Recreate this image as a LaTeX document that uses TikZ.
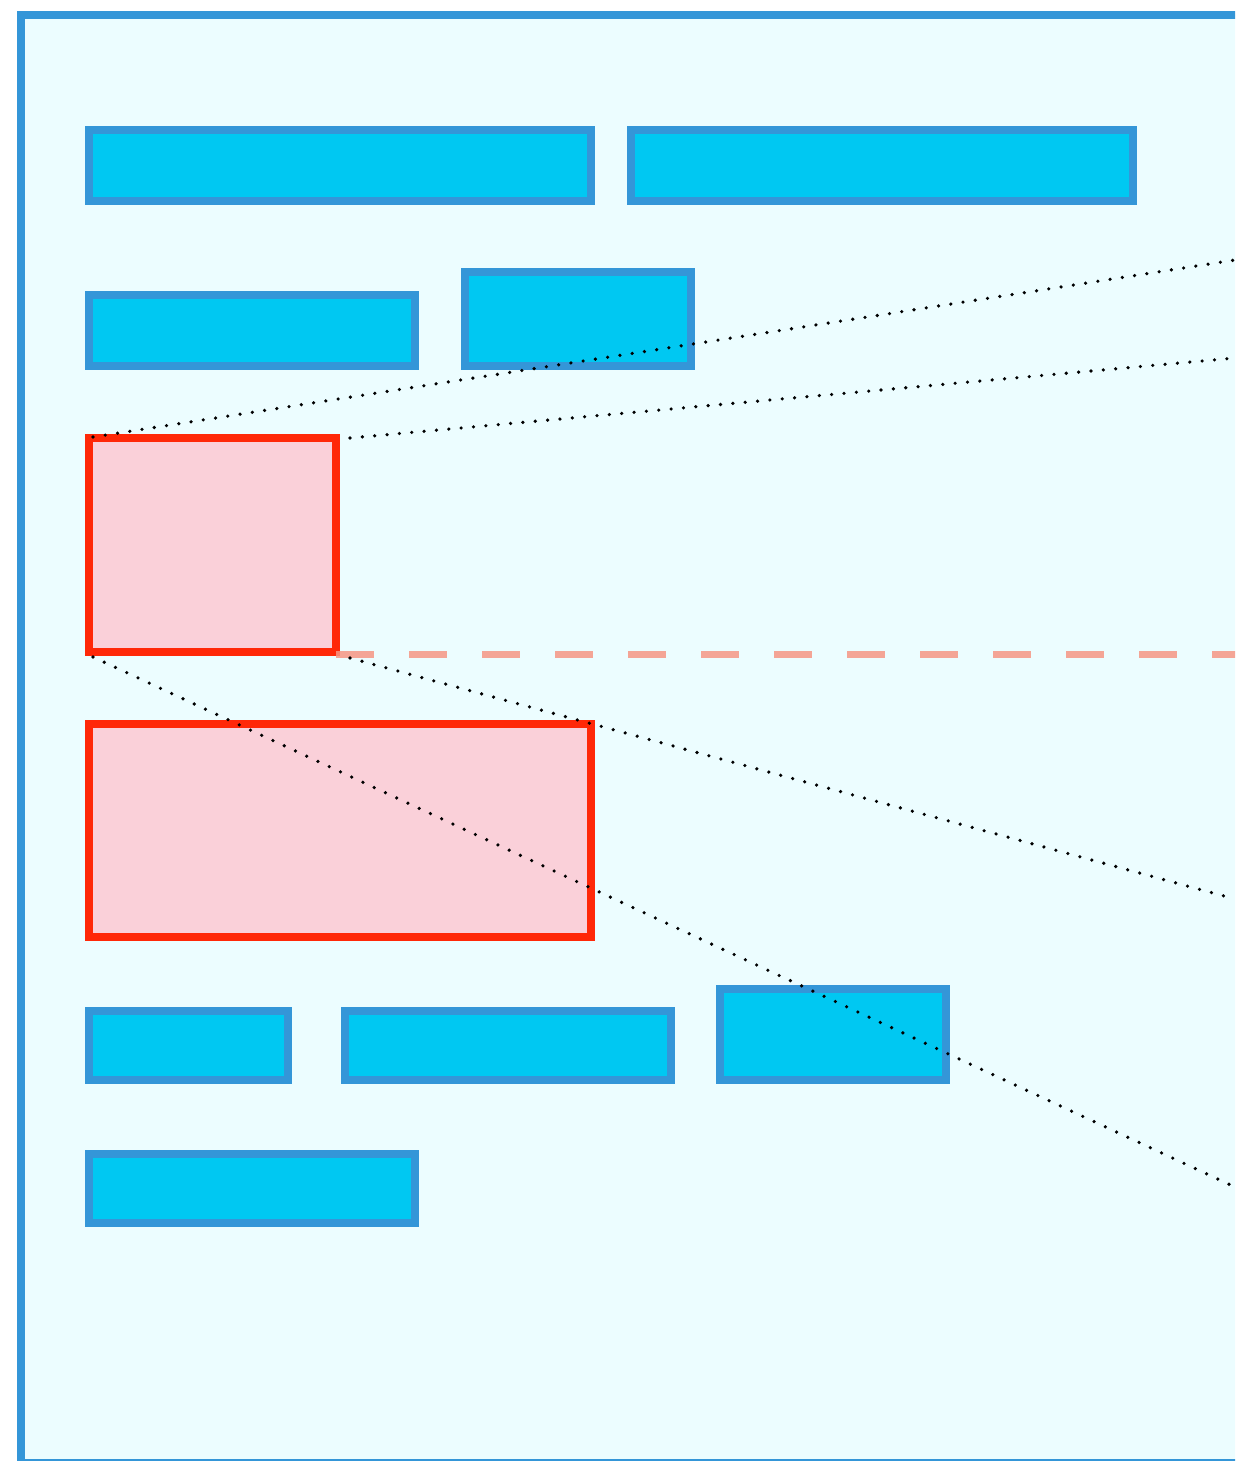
\documentclass[tikz,border=0pt]{standalone}
\definecolor{bgfill}{RGB}{236,253,255}
\definecolor{bborder}{RGB}{52,150,216}
\definecolor{bfill}{RGB}{0,200,242}
\definecolor{rborder}{RGB}{255,40,8}
\definecolor{rfill}{RGB}{250,208,217}
\definecolor{salmon}{RGB}{246,150,132}
\tikzset{
  bluebox/.style={draw=bborder, fill=bfill, line width=7.5pt, inner sep=0pt, outer sep=0pt, anchor=north west},
  redbox/.style={draw=rborder, fill=rfill, line width=7.5pt, inner sep=0pt, outer sep=0pt, anchor=north west},
  dotline/.style={line width=3.6pt, line cap=round, dash pattern=on 0pt off 12.4pt, black},
  salmondash/.style={line width=7pt, draw=salmon, opacity=0.85, dash pattern=on 38pt off 35pt}
}
\begin{document}
\begin{tikzpicture}[x=1pt,y=-1pt]
\useasboundingbox (0,0) rectangle (1235,1461);
\clip (0,0) rectangle (1235,1461);
\draw[draw=bborder, fill=bgfill, line width=8pt] (21,15) rectangle (1250,1463);
% row 1
\node[bluebox, minimum width=502pt, minimum height=71pt] (a) at (89,130) {};
\node[bluebox, minimum width=502pt, minimum height=71pt] (b) at (631,130) {};
% row 2
\node[bluebox, minimum width=326pt, minimum height=71pt] (c) at (89,295) {};
\node[bluebox, minimum width=226pt, minimum height=94pt] (d) at (465,272) {};
% red boxes
\node[redbox, minimum width=247pt, minimum height=214pt] (e) at (89,438) {};
\node[redbox, minimum width=502pt, minimum height=213pt] (f) at (89,724) {};
% row 3
\node[bluebox, minimum width=199pt, minimum height=69pt] (g) at (89,1011) {};
\node[bluebox, minimum width=326pt, minimum height=69pt] (h) at (345,1011) {};
\node[bluebox, minimum width=226pt, minimum height=91pt] (i) at (720,989) {};
% row 4
\node[bluebox, minimum width=326pt, minimum height=69pt] (j) at (89,1154) {};
% right-edge coordinates
\coordinate (r1) at (1235,260);
\coordinate (r2) at (1235,358);
\coordinate (r3) at (1235,1187);
\coordinate (r4) at (1235,899);
\coordinate (rd) at (1240,654);
% dashed line
\draw[salmondash] (e.south east |- rd) -- (rd);
% dotted lines
\draw[dotline] ([shift={(4,-1)}]e.north west) -- (r1);
\draw[dotline] ([shift={(14,0)}]e.north east) -- (r2);
\draw[dotline] ([shift={(4,5)}]e.south west) -- (r3);
\draw[dotline] ([shift={(14,6)}]e.south east) -- (r4);
\end{tikzpicture}
\end{document}
